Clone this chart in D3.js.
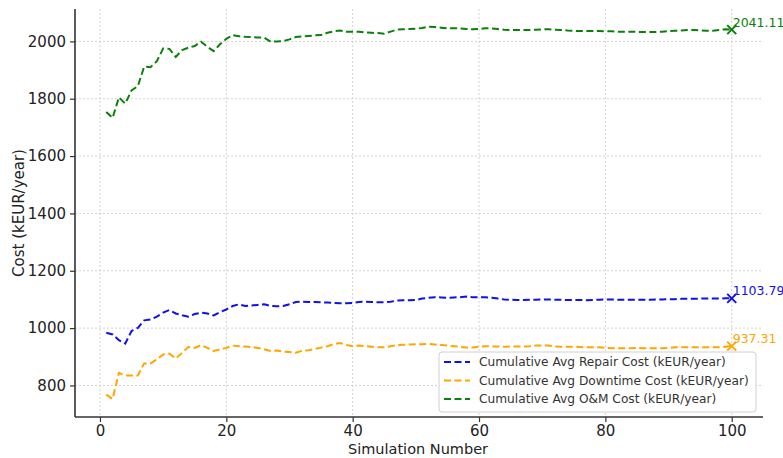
<!DOCTYPE html>
<html>
<head>
<meta charset="utf-8">
<script src="https://cdn.jsdelivr.net/npm/d3@7"></script>
<style>
  html, body { margin: 0; padding: 0; background: #fff; }
  svg { display: block; font-family: "DejaVu Sans", sans-serif; }
</style>
</head>
<body>
<svg id="chart" width="783" height="458"></svg>
<script>
// ---- data ----
const simulations = d3.range(1, 101);
const repairCost = [
  984, 978, 958, 946, 990, 1001, 1027, 1030, 1040, 1054,
  1063, 1051, 1045, 1040, 1049, 1054, 1051, 1044, 1056, 1065,
  1077, 1083, 1077, 1079, 1081, 1083, 1077, 1076, 1077, 1083,
  1091, 1092, 1091, 1091, 1090, 1089, 1088, 1087, 1087, 1088,
  1091, 1092, 1091, 1090, 1090, 1092, 1096, 1097, 1097, 1098,
  1103, 1106, 1108, 1107, 1106, 1107, 1108, 1110, 1108, 1107,
  1108, 1106, 1103, 1100, 1099, 1098, 1098, 1099, 1099, 1100,
  1100, 1099, 1099, 1098, 1098, 1098, 1097, 1098, 1099, 1100,
  1100, 1099, 1099, 1099, 1099, 1099, 1099, 1100, 1100, 1101,
  1101, 1102, 1102, 1102, 1103, 1103, 1103, 1103, 1104, 1103.79
];
const downtimeCost = [
  768, 753, 844, 835, 835, 835, 877, 877, 891, 908,
  911, 894, 914, 934, 931, 941, 931, 920, 926, 931,
  939, 937, 936, 934, 931, 926, 920, 922, 918, 917,
  914, 921, 923, 927, 932, 937, 944, 948, 941, 937,
  939, 937, 935, 933, 933, 937, 941, 942, 943, 944,
  944, 945, 943, 941, 939, 937, 935, 932, 932, 935,
  937, 936, 936, 935, 936, 936, 936, 937, 939, 939,
  939, 936, 935, 935, 935, 934, 933, 933, 933, 931,
  930, 930, 930, 930, 931, 930, 930, 930, 930, 931,
  933, 933, 933, 933, 933, 933, 933, 933, 935, 937.31
];
const omCost = [
  1754, 1733, 1805, 1783, 1829, 1844, 1912, 1910, 1931, 1975,
  1974, 1946, 1970, 1978, 1984, 1999, 1981, 1966, 1990, 2009,
  2022, 2018, 2016, 2015, 2014, 2013, 1999, 2000, 2001, 2007,
  2015, 2017, 2019, 2021, 2022, 2030, 2035, 2038, 2034, 2034,
  2034, 2031, 2030, 2029, 2027, 2034, 2041, 2042, 2043, 2044,
  2047, 2051, 2050, 2048, 2046, 2046, 2045, 2043, 2042, 2043,
  2046, 2045, 2043, 2041, 2040, 2040, 2040, 2040, 2041, 2042,
  2042, 2041, 2040, 2038, 2037, 2036, 2036, 2036, 2036, 2035,
  2035, 2034, 2034, 2034, 2033, 2033, 2033, 2033, 2034, 2036,
  2037, 2038, 2040, 2040, 2038, 2037, 2037, 2040, 2042, 2041.11
];
const seriesNames = [
  "Cumulative Avg Repair Cost (kEUR/year)",
  "Cumulative Avg Downtime Cost (kEUR/year)",
  "Cumulative Avg O&M Cost (kEUR/year)"
];
const seriesColors = ["#1010e8", "#ffa500", "#0a800a"];
const endLabels = ["1103.79", "937.31", "2041.11"];
const xTicks = [0, 20, 40, 60, 80, 100];
const yTicks = [800, 1000, 1200, 1400, 1600, 1800, 2000];

// ---- layout ----
const svg = d3.select("#chart");
const mLeft = 75, mRight = 763, mTop = 9, mBottom = 417;
const x = d3.scaleLinear().domain([-3.95, 104.95]).range([mLeft, mRight]);
const y = d3.scaleLinear().domain([690, 2113]).range([mBottom, mTop]);
const axisColor = "#333";

// grid
const grid = svg.append("g");
grid.selectAll("line.v").data(xTicks).enter().append("line")
  .attr("x1", d => x(d)).attr("x2", d => x(d))
  .attr("y1", mTop).attr("y2", mBottom)
  .attr("stroke", "#c8c8c8").attr("stroke-width", 0.8).attr("stroke-dasharray", "2,2");
grid.selectAll("line.h").data(yTicks).enter().append("line")
  .attr("x1", mLeft).attr("x2", mRight)
  .attr("y1", d => y(d)).attr("y2", d => y(d))
  .attr("stroke", "#c8c8c8").attr("stroke-width", 0.8).attr("stroke-dasharray", "2,2");

// axes
const xAxis = svg.append("g").attr("transform", `translate(0,${mBottom})`)
  .call(d3.axisBottom(x).tickValues(xTicks).tickFormat(d3.format("d")).tickSize(5).tickPadding(3));
const yAxis = svg.append("g").attr("transform", `translate(${mLeft},0)`)
  .call(d3.axisLeft(y).tickValues(yTicks).tickFormat(d3.format("d")).tickSize(5).tickPadding(4));
[xAxis, yAxis].forEach(a => {
  a.select(".domain").attr("stroke", axisColor).attr("stroke-width", 1.6);
  a.selectAll(".tick line").attr("stroke", axisColor).attr("stroke-width", 1.2);
  a.selectAll(".tick text").attr("fill", "#222").style("font-size", "15px")
    .style("font-family", "DejaVu Sans, sans-serif");
});
xAxis.select(".domain").attr("d", `M${mLeft},0H${mRight}`);
yAxis.select(".domain").attr("d", `M0,${mTop}V${mBottom}`);

// axis labels
svg.append("text").attr("x", (mLeft + mRight) / 2 - 1).attr("y", 454)
  .attr("text-anchor", "middle").attr("fill", "#222").style("font-size", "14.5px")
  .text("Simulation Number");
svg.append("text").attr("transform", `translate(24,${(mTop + mBottom) / 2}) rotate(-90)`)
  .attr("text-anchor", "middle").attr("fill", "#222").style("font-size", "15px")
  .text("Cost (kEUR/year)");

// lines
const allSeries = [repairCost, downtimeCost, omCost];
const line = d3.line().x((d, i) => x(simulations[i])).y(d => y(d));
allSeries.forEach((vals, k) => {
  svg.append("path").datum(vals)
    .attr("d", line).attr("fill", "none")
    .attr("stroke", seriesColors[k]).attr("stroke-width", 2)
    .attr("stroke-dasharray", "7,3.5");
  const lastX = x(simulations[vals.length - 1]);
  const lastY = y(vals[vals.length - 1]);
  const s = 4.5;
  svg.append("path")
    .attr("d", `M${lastX - s},${lastY - s}L${lastX + s},${lastY + s}M${lastX - s},${lastY + s}L${lastX + s},${lastY - s}`)
    .attr("stroke", seriesColors[k]).attr("stroke-width", 2).attr("fill", "none");
  svg.append("text").attr("x", lastX + 1).attr("y", lastY - 3)
    .attr("fill", seriesColors[k]).style("font-size", "12.5px")
    .text(endLabels[k]);
});

// legend
const lg = svg.append("g");
lg.append("rect").attr("x", 439).attr("y", 352).attr("width", 317).attr("height", 60)
  .attr("rx", 3).attr("fill", "white").attr("fill-opacity", 0.85)
  .attr("stroke", "#d0d0d0").attr("stroke-width", 1);
seriesNames.forEach((name, k) => {
  const cy = 362 + k * 18.5;
  lg.append("line").attr("x1", 444).attr("x2", 470).attr("y1", cy).attr("y2", cy)
    .attr("stroke", seriesColors[k]).attr("stroke-width", 2).attr("stroke-dasharray", "7,3.5");
  lg.append("text").attr("x", 479).attr("y", cy + 4.3)
    .attr("fill", "#333").style("font-size", "12.2px").text(name);
});
</script>
</body>
</html>
